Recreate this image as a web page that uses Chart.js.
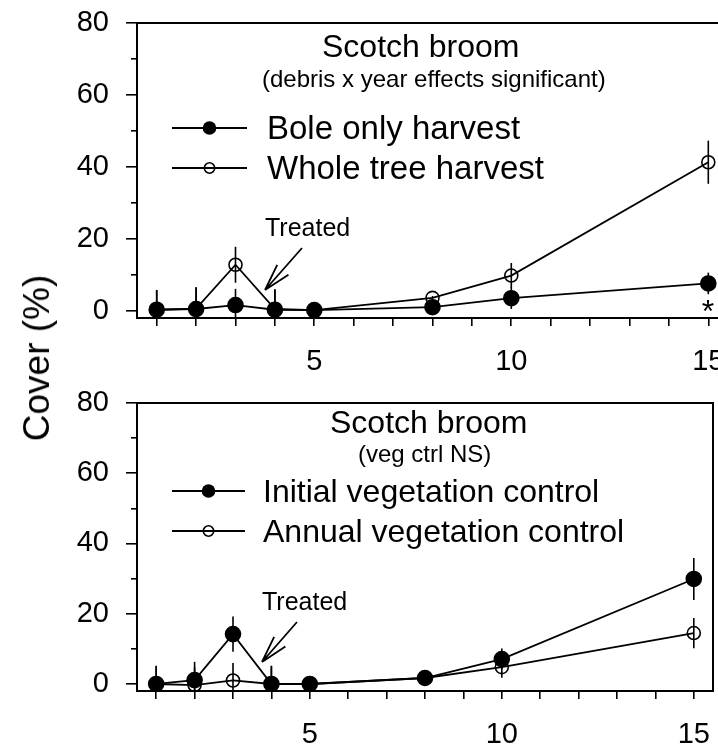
<!DOCTYPE html>
<html>
<head>
<meta charset="utf-8">
<script src="https://cdn.jsdelivr.net/npm/chart.js@4.4.0/dist/chart.umd.min.js"></script>
<style>
	html, body { margin: 0; padding: 0; background: #fff; overflow: hidden; width: 718px; height: 751px; }
	#top_panel { position: absolute; left: 0; top: 0; }
	#bottom_panel { position: absolute; left: 0; top: 375px; }
	#y_title {
		position: absolute; left: 37px; top: 358px;
		transform: translate(-50%, -50%) rotate(-90deg);
		font: 37px "Liberation Sans", Arial, sans-serif; white-space: nowrap; color: #000;
	}
</style>
</head>
<body>
<canvas id="top_panel" width="740" height="375"></canvas>
<canvas id="bottom_panel" width="760" height="376"></canvas>
<div id="y_title">Cover (%)</div>
<script>
//
// Data (years since planting, cover %, +/- error)
//
const years = [ 1, 2, 3, 4, 5, 8, 10, 15 ];

const bole_cover = [ 0.3, 0.5, 1.6, 0.3, 0.2, 1.0, 3.5, 7.6 ];
const bole_err = [ 5.5, 5.8, 4.5, 5.6, 0.5, 0.5, 3, 3 ];
const whole_cover = [ 0.3, 0.6, 12.8, 0.5, 0.2, 3.6, 9.8, 41.3 ];
const whole_err = [ 5.5, 6, 5, 5.5, 0.5, 0.5, 3.5, 6 ];

const initial_cover = [ 0, 1.1, 14.2, 0, 0, 1.7, 7.1, 29.9 ];
const initial_err = [ 5.2, 5.2, 5, 5.2, 0.5, 0.5, 3, 6 ];
const annual_cover = [ 0, -0.3, 1, 0, 0, 1.7, 4.8, 14.5 ];
const annual_err = [ 5, 5, 5, 5, 0.5, 0.5, 3, 4.3 ];

const x_ticks = [ 1, 2, 3, 4, 5, 6, 7, 8, 9, 10, 11, 12, 13, 14, 15 ];
const x_labels = [ 5, 10, 15 ];
const y_ticks = [ 0, 20, 40, 60, 80 ];
const y_minor = [ 10, 30, 50, 70 ];

const FONT = '"Liberation Sans", Arial, sans-serif';

function points( values ) {
	return years.map( ( x, i ) => ( { x: x, y: values[ i ] } ) );
}

// vertical error bars, drawn under the markers
const error_bars = {
	id: "error_bars",
	beforeDatasetsDraw( chart ) {
		const ctx = chart.ctx, sx = chart.scales.x, sy = chart.scales.y, a = chart.chartArea;
		ctx.save();
		ctx.beginPath();
		ctx.rect( a.left, a.top, a.right - a.left, a.bottom - a.top );
		ctx.clip();
		ctx.strokeStyle = "#000";
		ctx.lineWidth = 1.6;
		chart.data.datasets.forEach( ds => {
			ds.data.forEach( ( p, i ) => {
				const e = ds.errors[ i ];
				const px = sx.getPixelForValue( p.x );
				ctx.beginPath();
				ctx.moveTo( px, sy.getPixelForValue( p.y - e ) );
				ctx.lineTo( px, sy.getPixelForValue( p.y + e ) );
				ctx.stroke();
			} );
		} );
		ctx.restore();
	}
};

// box round the plot area
const frame = {
	id: "frame",
	afterDraw( chart ) {
		const ctx = chart.ctx, a = chart.chartArea;
		ctx.save();
		ctx.strokeStyle = "#000";
		ctx.lineWidth = 2;
		ctx.strokeRect( a.left, a.top, a.right - a.left, a.bottom - a.top );
		ctx.restore();
	}
};

// titles, hand legend, "Treated" arrow, asterisk
function notes( spec ) {
	return {
		id: "notes",
		afterDraw( chart ) {
			const ctx = chart.ctx;
			ctx.save();
			ctx.fillStyle = "#000";
			ctx.strokeStyle = "#000";
			ctx.textBaseline = "alphabetic";

			spec.texts.forEach( t => {
				ctx.font = t.size + "px " + FONT;
				ctx.textAlign = t.align || "left";
				ctx.fillText( t.text, t.x, t.y );
			} );

			spec.legend.forEach( row => {
				ctx.lineWidth = 2;
				ctx.beginPath();
				ctx.moveTo( spec.line_x[ 0 ], row.y );
				ctx.lineTo( spec.line_x[ 1 ], row.y );
				ctx.stroke();
				ctx.beginPath();
				const mx = ( spec.line_x[ 0 ] + spec.line_x[ 1 ] ) / 2;
				if ( row.filled ) {
					ctx.arc( mx, row.y, 6.8, 0, Math.PI * 2 );
					ctx.fill();
				} else {
					ctx.lineWidth = 1.6;
					ctx.arc( mx, row.y, 5.2, 0, Math.PI * 2 );
					ctx.stroke();
				}
				ctx.font = spec.legend_size + "px " + FONT;
				ctx.textAlign = "left";
				ctx.fillText( row.text, spec.text_x, row.y + 11 );
			} );

			// open arrow
			const [ x0, y0, x1, y1 ] = spec.arrow;
			const ang = Math.atan2( y0 - y1, x0 - x1 );
			ctx.lineWidth = 1.8;
			ctx.beginPath();
			ctx.moveTo( x0, y0 );
			ctx.lineTo( x1, y1 );
			[ -0.27, 0.27 ].forEach( d => {
				ctx.moveTo( x1, y1 );
				ctx.lineTo( x1 + 28 * Math.cos( ang + d ), y1 + 28 * Math.sin( ang + d ) );
			} );
			ctx.stroke();
			ctx.restore();
		}
	};
}

function make_panel( canvas, series, pad_right, x_height, note_spec ) {
	return new Chart( canvas, {
		type: "line",
		data: {
			datasets: series.map( s => ( {
				label: s.label,
				data: points( s.values ),
				errors: s.errors,
				borderColor: "#000",
				borderWidth: 1.8,
				tension: 0,
				pointRadius: s.filled ? 7.5 : 6.5,
				pointBorderWidth: 1.6,
				pointBorderColor: "#000",
				pointBackgroundColor: s.filled ? "#000" : "rgba(0,0,0,0)"
			} ) )
		},
		options: {
			responsive: false,
			animation: false,
			devicePixelRatio: 1,
			layout: { padding: { top: note_spec.top, right: pad_right, bottom: 0, left: 0 } },
			plugins: {
				legend: { display: false },
				tooltip: { enabled: false }
			},
			scales: {
				x: {
					type: "linear",
					min: 0.5,
					max: 15.5,
					afterBuildTicks: s => { s.ticks = x_ticks.map( v => ( { value: v } ) ); },
					afterFit: s => { s.height = x_height; s.paddingLeft = 0; s.paddingRight = 0; },
					grid: { drawOnChartArea: false, tickLength: 8, color: "#000", lineWidth: 1.6 },
					border: { color: "#000", width: 2 },
					ticks: {
						color: "#000",
						font: { size: 29, family: FONT },
						padding: 19,
						maxRotation: 0,
						autoSkip: false,
						callback: v => x_labels.includes( v ) ? String( v ) : ""
					}
				},
				y: {
					min: -2,
					max: 80,
					weight: 1,
					afterBuildTicks: s => { s.ticks = y_ticks.map( v => ( { value: v } ) ); },
					afterFit: s => { s.width = 137; s.paddingTop = 0; s.paddingBottom = 0; },
					grid: { drawOnChartArea: false, tickLength: 11, color: "#000", lineWidth: 1.6 },
					border: { color: "#000", width: 2 },
					ticks: { color: "#000", font: { size: 29, family: FONT }, padding: 17 }
				},
				y_minor: {
					position: "left",
					min: -2,
					max: 80,
					weight: 0,
					afterBuildTicks: s => { s.ticks = y_minor.map( v => ( { value: v } ) ); },
					afterFit: s => { s.width = 0; s.paddingTop = 0; s.paddingBottom = 0; },
					grid: { drawOnChartArea: false, tickLength: 6, color: "#000", lineWidth: 1.6 },
					border: { display: false },
					ticks: { display: false }
				}
			}
		},
		plugins: [ error_bars, frame, notes( note_spec ) ]
	} );
}

//
// Upper panel: harvest type
//
make_panel( document.getElementById( "top_panel" ),
	[
		{ label: "Bole only harvest", values: bole_cover, errors: bole_err, filled: true },
		{ label: "Whole tree harvest", values: whole_cover, errors: whole_err, filled: false }
	],
	12, 57,
	{
		top: 23,
		texts: [
			{ text: "Scotch broom", x: 322, y: 57, size: 32 },
			{ text: "(debris x year effects significant)", x: 262, y: 87, size: 24 },
			{ text: "Treated", x: 265, y: 236, size: 25 },
			{ text: "*", x: 708, y: 322, size: 32, align: "center" }
		],
		line_x: [ 172, 247 ],
		text_x: 267,
		legend_size: 33,
		legend: [
			{ y: 128, filled: true, text: "Bole only harvest" },
			{ y: 168, filled: false, text: "Whole tree harvest" }
		],
		arrow: [ 302, 248, 265, 290 ]
	} );

//
// Lower panel: vegetation control
//
make_panel( document.getElementById( "bottom_panel" ),
	[
		{ label: "Initial vegetation control", values: initial_cover, errors: initial_err, filled: true },
		{ label: "Annual vegetation control", values: annual_cover, errors: annual_err, filled: false }
	],
	47, 60,
	{
		top: 28,
		texts: [
			{ text: "Scotch broom", x: 330, y: 58, size: 32 },
			{ text: "(veg ctrl NS)", x: 358, y: 87, size: 24 },
			{ text: "Treated", x: 262, y: 235, size: 25 }
		],
		line_x: [ 172, 245 ],
		text_x: 263,
		legend_size: 32,
		legend: [
			{ y: 116, filled: true, text: "Initial vegetation control" },
			{ y: 156, filled: false, text: "Annual vegetation control" }
		],
		arrow: [ 297, 247, 262, 287 ]
	} );
</script>
</body>
</html>
